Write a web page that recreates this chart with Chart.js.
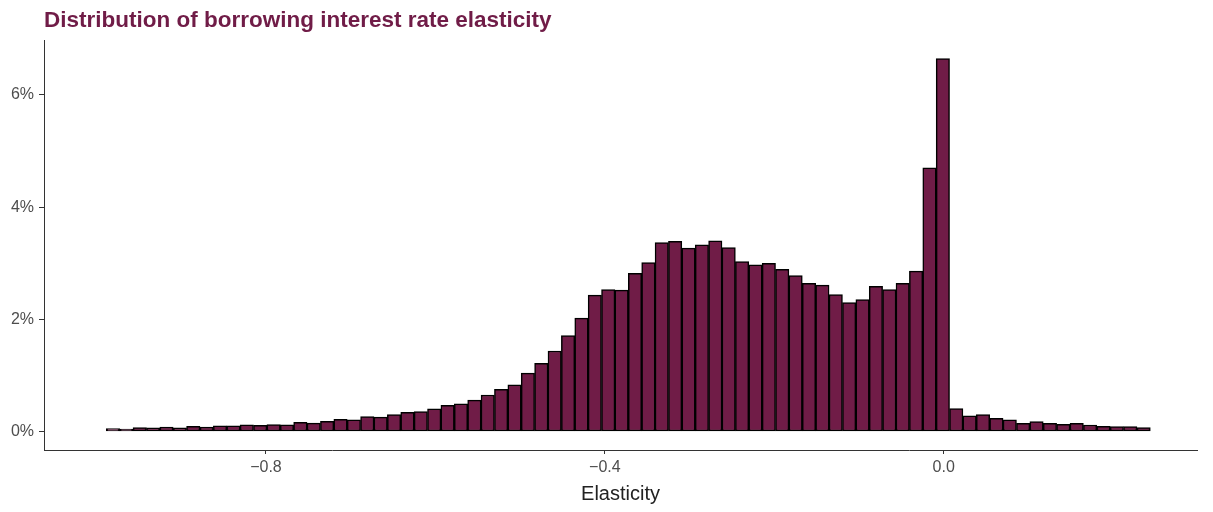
<!DOCTYPE html>
<html>
<head>
<meta charset="utf-8">
<script src="https://cdn.jsdelivr.net/npm/chart.js@4/dist/chart.umd.min.js"></script>
<style>
    html, body { margin: 0; padding: 0; background: #fff; }
    #wrap { width: 1213px; height: 512px; position: relative; }
</style>
</head>
<body>
<div id="wrap"><canvas id="hist"></canvas></div>
<script>
// histogram bins: first bin centre and width (elasticity units)
const binStart = -0.9806;
const binWidth = 0.0158;

const shares = [
    0.05, 0.045, 0.07, 0.065, 0.08, 0.065, 0.09, 0.08, 0.10, 0.10,
    0.12, 0.11, 0.125, 0.12, 0.165, 0.15, 0.18, 0.215, 0.21, 0.265,
    0.255, 0.30, 0.34, 0.355, 0.405, 0.465, 0.495, 0.56, 0.65, 0.75,
    0.83, 1.04, 1.215, 1.435, 1.71, 2.02, 2.43, 2.53, 2.52, 2.82,
    3.01, 3.37, 3.39, 3.27, 3.33, 3.40, 3.28, 3.03, 2.97, 3.00,
    2.89, 2.78, 2.64, 2.61, 2.44, 2.30, 2.35, 2.59, 2.53, 2.64,
    2.86, 4.70, 6.65, 0.41, 0.28, 0.30, 0.235, 0.21, 0.145, 0.175,
    0.145, 0.128, 0.145, 0.116, 0.092, 0.086, 0.086, 0.068
];

const xTicks = [-0.8, -0.4, 0.0];
const yTicks = [0, 2, 4, 6];

const titleText = 'Distribution of borrowing interest rate elasticity';
const xTitle = 'Elasticity';

const FONT = "'Liberation Sans', Arial, Helvetica, sans-serif";
const MAROON = '#701C47';

const points = shares.map((v, i) => ({ x: binStart + i * binWidth, y: v }));

function fmtX(v) {
    if (Math.abs(v) < 1e-9) return '0.0';
    return v.toFixed(1).replace('-', '\u2212');
}

new Chart(document.getElementById('hist'), {
    type: 'bar',
    data: {
        datasets: [{
            data: points,
            backgroundColor: MAROON,
            borderColor: '#000',
            borderWidth: 1.5,
            borderSkipped: false,
            barPercentage: 1,
            categoryPercentage: 1
        }]
    },
    options: {
        responsive: true,
        maintainAspectRatio: false,
        animation: false,
        layout: { padding: { left: 0, right: 16, top: 0, bottom: 0 } },
        plugins: {
            legend: { display: false },
            tooltip: { enabled: false },
            title: {
                display: true,
                text: titleText,
                align: 'start',
                fullSize: false,
                color: MAROON,
                font: { family: FONT, size: 22.5, weight: 'bold' },
                padding: { top: 7.5, bottom: 5.5 }
            }
        },
        scales: {
            x: {
                type: 'linear',
                offset: false,
                min: -1.062,
                max: 0.299,
                afterBuildTicks: s => { s.ticks = xTicks.map(v => ({ value: v })); },
                afterFit: s => { s.height = 62; },
                ticks: {
                    callback: v => fmtX(v),
                    color: '#4D4D4D',
                    font: { family: FONT, size: 16 },
                    padding: 3.5,
                    maxRotation: 0,
                    autoSkip: false
                },
                grid: { offset: false, drawOnChartArea: false, color: '#333', tickLength: 4 },
                border: { color: '#333', width: 1 },
                title: {
                    display: true,
                    text: xTitle,
                    color: '#222',
                    font: { family: FONT, size: 20 },
                    padding: { top: 0, bottom: 5.5 }
                }
            },
            y: {
                min: -0.33,
                max: 6.98,
                afterBuildTicks: s => { s.ticks = yTicks.map(v => ({ value: v })); },
                afterFit: s => { s.width = 44; },
                ticks: {
                    callback: v => v + '%',
                    color: '#4D4D4D',
                    font: { family: FONT, size: 16 },
                    padding: 5
                },
                grid: { drawOnChartArea: false, color: '#333', tickLength: 5 },
                border: { color: '#333', width: 1 }
            }
        }
    }
});
</script>
</body>
</html>
